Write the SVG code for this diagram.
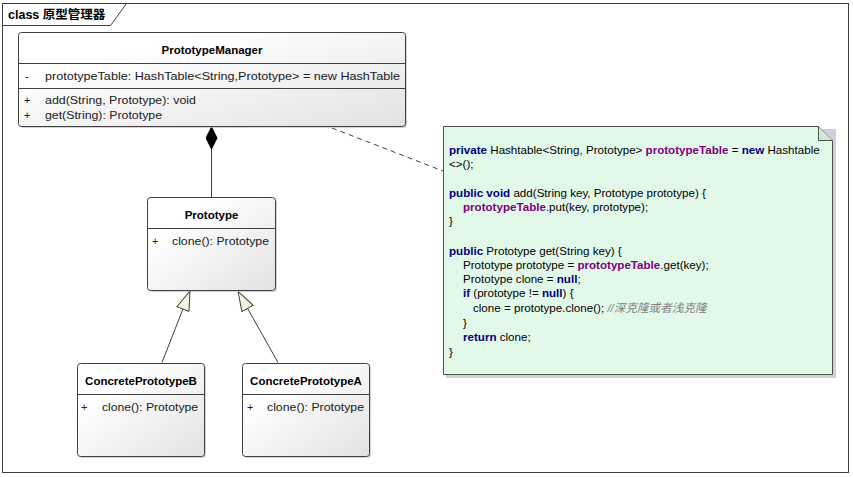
<svg xmlns="http://www.w3.org/2000/svg" width="853" height="477" viewBox="0 0 853 477">
<defs>
<linearGradient id="cg" x1="0" y1="0" x2="1" y2="1">
<stop offset="0.25" stop-color="#ffffff"/>
<stop offset="1" stop-color="#e2e2e2"/>
</linearGradient>
<marker id="gen" viewBox="0 0 20 14" refX="20" refY="7" markerWidth="20" markerHeight="14" markerUnits="userSpaceOnUse" orient="auto">
<path d="M0.5,0.5 L20,7 L0.5,13.5 z" fill="#f7f1e6" stroke="#404040" stroke-width="1"/>
</marker>
<marker id="comp" viewBox="0 0 24 12" refX="0" refY="6" markerWidth="24" markerHeight="12" markerUnits="userSpaceOnUse" orient="auto">
<path d="M0,6 L12,0 L24,6 L12,12 z" fill="#000"/>
</marker>
</defs>
<style>
.box{fill:url(#cg);stroke:#404040;stroke-width:1}
.shd{fill:#b8b8b8;opacity:0.6}
.div{stroke:#404040;stroke-width:1}
.t{font-family:"Liberation Sans",Arial,sans-serif;font-size:11px;fill:#202020}
.tb{font-family:"Liberation Sans",Arial,sans-serif;font-size:11.5px;font-weight:bold;fill:#000}
.n{font-family:"Liberation Sans",Arial,sans-serif;font-size:11.6px;fill:#000}
.kw{font-weight:bold;fill:#00007f}
.pv{font-weight:bold;fill:#7f007f}
.cm{font-style:italic;fill:#808080}
.ln{stroke:#404040;stroke-width:1;fill:none}
</style>
<g id="frame">
<rect x="2.5" y="3.5" width="846" height="469" fill="#fff" stroke="#404040"/>
<path d="M2.5,25.5 L110.5,25.5 L126.5,3.5" fill="none" stroke="#404040"/>
<text x="8" y="19" style="font-family:'Liberation Sans','Noto Sans CJK SC',sans-serif;font-size:12.5px;font-weight:bold">class 原型管理器</text>
</g>
<g id="connectors">
<line class="ln" x1="211.5" y1="126" x2="211.5" y2="197" marker-start="url(#comp)"/>
<line class="ln" x1="162" y1="362.5" x2="190" y2="291" marker-end="url(#gen)"/>
<line class="ln" x1="278" y1="362.5" x2="238" y2="291.5" marker-end="url(#gen)"/>
<line class="ln" x1="332" y1="128" x2="443" y2="171" stroke-dasharray="5,4"/>
</g>
<g id="PrototypeManager">
<rect class="shd" x="20" y="34" width="387" height="94" rx="3"/>
<rect class="box" x="18.5" y="32.5" width="387" height="94" rx="3"/>
<line class="div" x1="18.5" y1="63.5" x2="405.5" y2="63.5"/>
<line class="div" x1="18.5" y1="88.5" x2="405.5" y2="88.5"/>
<text class="tb" x="212" y="54" text-anchor="middle">PrototypeManager</text>
<text class="t" x="25" y="80">-</text>
<text class="t" x="45" y="80" textLength="355" lengthAdjust="spacingAndGlyphs">prototypeTable: HashTable&lt;String,Prototype&gt; = new HashTable</text>
<text class="t" x="24" y="104">+</text>
<text class="t" x="45" y="104" textLength="151" lengthAdjust="spacingAndGlyphs">add(String, Prototype): void</text>
<text class="t" x="24" y="119">+</text>
<text class="t" x="45" y="119" textLength="117" lengthAdjust="spacingAndGlyphs">get(String): Prototype</text>
</g>
<g id="Prototype">
<rect class="shd" x="149" y="199" width="128" height="93" rx="3"/>
<rect class="box" x="147.5" y="197.5" width="128" height="93" rx="3"/>
<line class="div" x1="147.5" y1="228.5" x2="275.5" y2="228.5"/>
<text class="tb" x="211.5" y="219" text-anchor="middle">Prototype</text>
<text class="t" x="152" y="245">+</text>
<text class="t" x="172" y="245" textLength="97" lengthAdjust="spacingAndGlyphs">clone(): Prototype</text>
</g>
<g id="ConcretePrototypeB">
<rect class="shd" x="79" y="365" width="127" height="93" rx="3"/>
<rect class="box" x="77.5" y="363.5" width="127" height="93" rx="3"/>
<line class="div" x1="77.5" y1="394.5" x2="204.5" y2="394.5"/>
<text class="tb" x="141" y="385" text-anchor="middle">ConcretePrototypeB</text>
<text class="t" x="81" y="411">+</text>
<text class="t" x="102" y="411" textLength="96" lengthAdjust="spacingAndGlyphs">clone(): Prototype</text>
</g>
<g id="ConcretePrototypeA">
<rect class="shd" x="244" y="365" width="127" height="93" rx="3"/>
<rect class="box" x="242.5" y="363.5" width="127" height="93" rx="3"/>
<line class="div" x1="242.5" y1="394.5" x2="369.5" y2="394.5"/>
<text class="tb" x="306" y="385" text-anchor="middle">ConcretePrototypeA</text>
<text class="t" x="247" y="411">+</text>
<text class="t" x="267" y="411" textLength="97" lengthAdjust="spacingAndGlyphs">clone(): Prototype</text>
</g>
<g id="note">
<rect x="446" y="129" width="390" height="249" fill="#cfcfdc"/>
<path d="M443.5,126.5 L818.5,126.5 L832.5,140.5 L832.5,374.5 L443.5,374.5 z" fill="#e2f9e9" stroke="#4a524a"/>
<path d="M818.5,126.5 L818.5,140.5 L832.5,140.5" fill="#d4e8d8" stroke="#4a524a"/>
<text class="n" x="449" y="154"><tspan class="kw">private</tspan> Hashtable&lt;String, Prototype&gt;  <tspan class="pv">prototypeTable</tspan> =  <tspan class="kw">new</tspan> Hashtable</text>
<text class="n" x="449" y="168">&lt;&gt;();</text>
<text class="n" x="449" y="197"><tspan class="kw">public void</tspan> add(String key, Prototype prototype) {</text>
<text class="n" x="463" y="211"><tspan class="pv">prototypeTable</tspan>.put(key, prototype);</text>
<text class="n" x="449" y="225">}</text>
<text class="n" x="449" y="255"><tspan class="kw">public</tspan> Prototype get(String key) {</text>
<text class="n" x="463" y="269">Prototype prototype = <tspan class="pv">prototypeTable</tspan>.get(key);</text>
<text class="n" x="463" y="283">Prototype clone = <tspan class="kw">null</tspan>;</text>
<text class="n" x="463" y="297"><tspan class="kw">if</tspan> (prototype != <tspan class="kw">null</tspan>) {</text>
<text class="n" x="473" y="312">clone = prototype.clone(); <tspan class="cm" style="font-family:'Liberation Sans','Noto Sans CJK SC',sans-serif">//深克隆或者浅克隆</tspan></text>
<text class="n" x="463" y="327">}</text>
<text class="n" x="463" y="341"><tspan class="kw">return</tspan> clone;</text>
<text class="n" x="449" y="356">}</text>
</g>
</svg>
